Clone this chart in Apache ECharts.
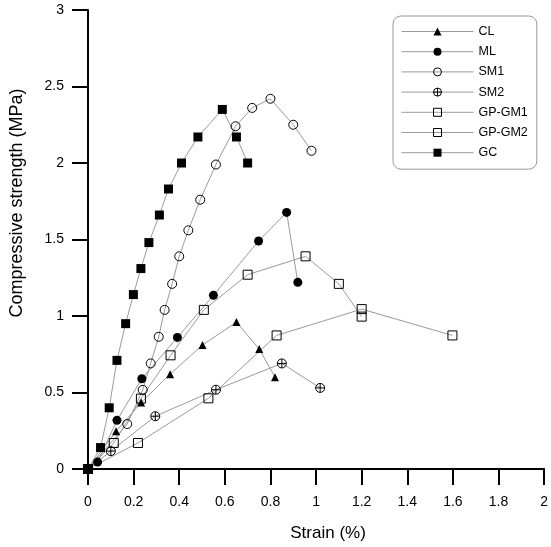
<!DOCTYPE html>
<html>
<head>
<meta charset="utf-8">
<script src="https://cdn.jsdelivr.net/npm/echarts@6/dist/echarts.min.js"></script>
<style>
  html, body { margin: 0; padding: 0; background: #fff; overflow: hidden; }
  #chart { width: 551px; height: 547px; }
</style>
</head>
<body>
<div id="chart"></div>
<script>
// values
const clStrain = [0, 0.123, 0.233, 0.36, 0.502, 0.651, 0.751, 0.82];
const clStrength = [0, 0.246, 0.434, 0.62, 0.81, 0.96, 0.784, 0.60];

const mlStrain = [0, 0.042, 0.127, 0.236, 0.392, 0.55, 0.748, 0.871, 0.92];
const mlStrength = [0, 0.045, 0.318, 0.59, 0.86, 1.135, 1.49, 1.677, 1.22];

const sm1Strain = [0, 0.172, 0.24, 0.275, 0.31, 0.336, 0.369, 0.40, 0.44, 0.492, 0.561, 0.647, 0.72, 0.80, 0.90, 0.98];
const sm1Strength = [0, 0.294, 0.517, 0.69, 0.864, 1.04, 1.21, 1.39, 1.56, 1.76, 1.99, 2.24, 2.36, 2.42, 2.25, 2.08];

const sm2Strain = [0, 0.10, 0.295, 0.561, 0.85, 1.018];
const sm2Strength = [0, 0.117, 0.345, 0.518, 0.69, 0.53];

const gm1Strain = [0, 0.113, 0.232, 0.362, 0.508, 0.70, 0.954, 1.10, 1.20];
const gm1Strength = [0, 0.17, 0.46, 0.743, 1.04, 1.27, 1.39, 1.21, 0.996];

const gm2Strain = [0, 0.219, 0.528, 0.827, 1.20, 1.598];
const gm2Strength = [0, 0.17, 0.462, 0.873, 1.045, 0.873];

const gcStrain = [0, 0.055, 0.093, 0.127, 0.165, 0.199, 0.232, 0.267, 0.313, 0.353, 0.41, 0.482, 0.589, 0.651, 0.70];
const gcStrength = [0, 0.14, 0.40, 0.71, 0.95, 1.14, 1.31, 1.48, 1.66, 1.83, 2.0, 2.17, 2.35, 2.17, 2.0];

const font = 'Liberation Sans, Arial, sans-serif';
const crossCircle = 'path://M0,10A10,10,0,1,1,20,10A10,10,0,1,1,0,10ZM10,0L10,20M0,10L20,10';

const pairs = (xs, ys) => xs.map((x, i) => [x, ys[i]]);

const mkSeries = (name, xs, ys, symbol, size, filled) => ({
  name,
  type: 'line',
  data: pairs(xs, ys),
  symbol,
  symbolSize: size,
  lineStyle: { color: '#9a9a9a', width: 1 },
  itemStyle: filled
    ? { color: '#000', borderWidth: 0 }
    : { color: 'transparent', borderColor: '#000', borderWidth: 1 },
  emphasis: { disabled: true },
});

const series = [
  mkSeries('CL', clStrain, clStrength, 'triangle', 8, true),
  mkSeries('ML', mlStrain, mlStrength, 'circle', 9, true),
  mkSeries('SM1', sm1Strain, sm1Strength, 'circle', 9, false),
  mkSeries('SM2', sm2Strain, sm2Strength, crossCircle, 9, false),
  mkSeries('GP-GM1', gm1Strain, gm1Strength, 'rect', 9, false),
  mkSeries('GP-GM2', gm2Strain, gm2Strength, 'rect', 9, false),
  mkSeries('GC', gcStrain, gcStrength, 'rect', 9, true),
];

const option = {
  animation: false,
  textStyle: { fontFamily: font },
  grid: { left: 82, right: 3, top: 10, bottom: 73, containLabel: false },
  legend: {
    orient: 'vertical',
    left: 393,
    top: 16,
    padding: [9, 9, 10, 8],
    itemWidth: 72,
    itemHeight: 10,
    itemGap: 7.2,
    itemTextGap: 7,
    itemStyle: { borderWidth: 1 },
    lineStyle: { width: 1 },
    backgroundColor: '#fff',
    borderColor: '#999',
    borderWidth: 1,
    borderRadius: 8,
    selectedMode: false,
    textStyle: { fontFamily: font, fontSize: 12.5, color: '#000' },
  },
  xAxis: {
    type: 'value',
    min: 0,
    max: 2,
    interval: 0.2,
    name: 'Strain (%)',
    nameLocation: 'middle',
    nameGap: 56,
    nameTextStyle: { fontFamily: font, fontSize: 17, color: '#000', padding: [0, 0, 0, 24] },
    splitLine: { show: false },
    axisLine: { lineStyle: { color: '#000', width: 2 } },
    axisTick: { length: 16, lineStyle: { color: '#000', width: 2 } },
    axisLabel: { margin: 26, fontFamily: font, fontSize: 14, color: '#000' },
  },
  yAxis: {
    type: 'value',
    min: 0,
    max: 3,
    interval: 0.5,
    name: 'Compressive strength (MPa)',
    nameLocation: 'middle',
    nameGap: 62,
    nameTextStyle: { fontFamily: font, fontSize: 18, color: '#000', padding: [0, 0, 0, 73] },
    splitLine: { show: false },
    axisLine: { show: true, lineStyle: { color: '#000', width: 2 } },
    axisTick: { show: true, length: 16, lineStyle: { color: '#000', width: 2 } },
    axisLabel: { margin: 24, fontFamily: font, fontSize: 14, color: '#000' },
  },
  series,
};

const myChart = echarts.init(document.getElementById('chart'));
myChart.setOption(option);
</script>
</body>
</html>
